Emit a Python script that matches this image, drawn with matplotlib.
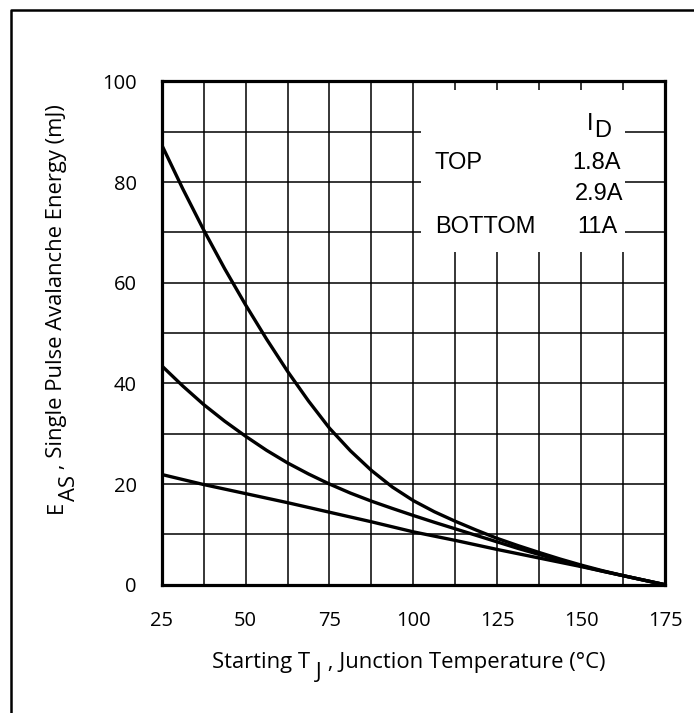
import matplotlib
matplotlib.use('Agg')
import matplotlib.pyplot as plt
from matplotlib.patches import Rectangle
from matplotlib.lines import Line2D
import numpy as np

# ---- data ----
temps = [25, 31.25, 37.5, 43.75, 50, 56.25, 62.5, 68.75, 75, 81.25, 87.5, 93.75, 100,
         106.25, 112.5, 118.75, 125, 131.25, 137.5, 143.75, 150, 156.25, 162.5, 168.75, 175]
eas_1p8A = [87.4, 78.7, 70.5, 62.8, 55.6, 48.8, 42.4, 36.5, 31.1, 26.6, 22.7, 19.4, 16.7,
            14.5, 12.6, 10.85, 9.2, 7.75, 6.4, 5.1, 3.9, 2.8, 1.8, 0.9, 0.0]
eas_2p9A = [43.5, 39.5, 35.8, 32.5, 29.5, 26.7, 24.2, 22.0, 20.0, 18.2, 16.6, 15.15, 13.75,
            12.4, 11.1, 9.8, 8.5, 7.2, 6.0, 4.8, 3.7, 2.7, 1.8, 0.9, 0.0]
eas_11A = [21.9, 20.9, 19.9, 19.0, 18.1, 17.2, 16.3, 15.35, 14.4, 13.45, 12.5, 11.5, 10.5,
           9.65, 8.8, 7.9, 7.0, 6.15, 5.3, 4.45, 3.6, 2.7, 1.8, 0.9, 0.0]

x_ticks = [25, 50, 75, 100, 125, 150, 175]
y_ticks = [0, 20, 40, 60, 80, 100]
legend_rows = ["TOP", "", "BOTTOM"]
legend_vals = ["1.8A", "2.9A", "11A"]

W, H = 694, 713
fig = plt.figure(figsize=(W / 100, H / 100), dpi=100)
fig.patch.set_facecolor('white')

# outer frame (runs off the right and bottom edges)
fig.add_artist(Line2D([11 / W, 11 / W, 1.02], [-0.02, 1 - 9.5 / H, 1 - 9.5 / H],
                      transform=fig.transFigure, color='black', lw=1.8))

ax = fig.add_axes([161.7 / W, 1 - 584.7 / H, (665 - 161.7) / W, (584.7 - 81.4) / H])
ax.set_xlim(25, 175)
ax.set_ylim(0, 100)
ax.set_axisbelow(True)

tick_font = ['Open Sans', 'DejaVu Sans']
ax.set_xticks(x_ticks)
ax.set_xticklabels([str(v) for v in x_ticks], family=tick_font, fontsize=14.5)
ax.set_yticks(y_ticks)
ax.set_yticklabels([str(v) for v in y_ticks], family=tick_font, fontsize=14.5)
ax.set_xticks(np.arange(25, 176, 12.5), minor=True)
ax.set_yticks(np.arange(0, 101, 10), minor=True)
ax.tick_params(which='both', length=0)
ax.tick_params(axis='x', pad=19)
ax.tick_params(axis='y', pad=18)
ax.grid(which='both', color='black', lw=1.1)
for s in ax.spines.values():
    s.set_linewidth(2.3)
    s.set_zorder(5)

# legend white box
ax.add_patch(Rectangle((102.2, 66.1), 163.0 - 102.2, 98.3 - 66.1,
                       facecolor='white', edgecolor='none', zorder=1))

for ys in (eas_1p8A, eas_2p9A, eas_11A):
    ax.plot(temps, ys, color='black', lw=2.4, zorder=3, solid_capstyle='round',
            solid_joinstyle='round')

leg_font = ['Liberation Sans', 'DejaVu Sans']
lfs = 17
ax.text(152.8, 90.3, "I", family=leg_font, fontsize=lfs, ha='center', va='baseline', zorder=6)
ax.text(156.5, 89.0, "D", family=leg_font, fontsize=lfs, ha='center', va='baseline', zorder=6)
row_y = [82.6, 76.4, 69.8]
val_x = [154.7, 155.3, 154.9]
for lab, val, yy, xx in zip(legend_rows, legend_vals, row_y, val_x):
    if lab:
        ax.text(106.4, yy, lab, family=leg_font, fontsize=lfs, ha='left', va='baseline', zorder=6)
    ax.text(xx, yy, val, family=leg_font, fontsize=lfs, ha='center', va='baseline', zorder=6)

# axis labels with lowered subscript pieces
lab_font = ['Open Sans', 'DejaVu Sans']
lab_fs = 15.8
t1 = fig.text(212 / W, 1 - 668.3 / H, "Starting T", family=lab_font, fontsize=lab_fs,
              ha='left', va='baseline')
t2 = ax.annotate(" J", xy=(1, 0), xycoords=t1, xytext=(0, -6.8), textcoords='offset points',
                 family=lab_font, fontsize=lab_fs, ha='left', va='bottom', annotation_clip=False)
t3 = ax.annotate(" , Junction Temperature (°C)", xy=(1, 0), xycoords=t2, xytext=(0, 6.8),
                 textcoords='offset points', family=lab_font, fontsize=lab_fs,
                 ha='left', va='bottom', annotation_clip=False)

y1 = fig.text(62 / W, 1 - 513 / H, "E", family=lab_font, fontsize=lab_fs, rotation=90,
              rotation_mode='anchor', ha='left', va='baseline')
y2 = ax.annotate("AS", xy=(0, 1), xycoords=y1, xytext=(9.4, 0), textcoords='offset points',
                 family=lab_font, fontsize=lab_fs, rotation=90, ha='left', va='bottom',
                 annotation_clip=False)
y3 = ax.annotate(" , Single Pulse Avalanche Energy (mJ)", xy=(0, 1), xycoords=y2,
                 xytext=(-9.4, 0), textcoords='offset points', family=lab_font,
                 fontsize=lab_fs, rotation=90, ha='left', va='bottom', annotation_clip=False)

fig.savefig('out.png', dpi=100, facecolor='white')
